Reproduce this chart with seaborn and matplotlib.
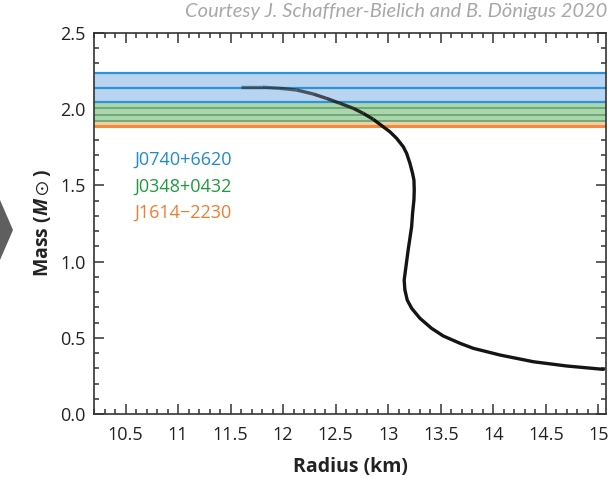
import numpy as np
import pandas as pd
import matplotlib
matplotlib.use("Agg")
import matplotlib.pyplot as plt
from matplotlib.collections import LineCollection
from matplotlib.patches import Polygon
from matplotlib.ticker import MultipleLocator
import seaborn as sns

# ---- data ----
radius_km = [11.597, 11.810, 11.969, 12.128, 12.286, 12.413, 12.540, 12.667, 12.762, 12.857,
             12.952, 13.016, 13.080, 13.143, 13.175, 13.207, 13.232, 13.245, 13.248, 13.245,
             13.232, 13.223, 13.190, 13.169, 13.152, 13.159, 13.181, 13.223, 13.302, 13.413,
             13.524, 13.683, 13.810, 14.064, 14.381, 14.699, 15.048]
mass_msun = [2.144, 2.144, 2.137, 2.126, 2.100, 2.071, 2.039, 2.006, 1.973, 1.934,
             1.885, 1.852, 1.809, 1.754, 1.711, 1.645, 1.579, 1.535, 1.470, 1.404,
             1.317, 1.229, 1.076, 0.967, 0.879, 0.814, 0.748, 0.694, 0.628, 0.562,
             0.512, 0.464, 0.431, 0.387, 0.343, 0.315, 0.293]

pulsars = ["J0740+6620", "J0348+0432", "J1614\u22122230"]
# band limits (lower, upper) and interior lines
orange_band = (1.890, 1.925)
green_band = (1.925, 2.050)
green_lines = [2.050, 2.007, 1.963, 1.925]
blue_band = (2.050, 2.240)
blue_lines = [2.240, 2.140, 2.050]

x_ticks = [10.5, 11, 11.5, 12, 12.5, 13, 13.5, 14, 14.5, 15]
x_tick_labels = ["10.5", "11", "11.5", "12", "12.5", "13", "13.5", "14", "14.5", "15"]
y_ticks = [0.0, 0.5, 1.0, 1.5, 2.0, 2.5]
y_tick_labels = ["0.0", "0.5", "1.0", "1.5", "2.0", "2.5"]

# ---- style ----
sns.set_style("ticks")
plt.rcParams["font.family"] = ["Open Sans", "DejaVu Sans"]
plt.rcParams["mathtext.fontset"] = "custom"
plt.rcParams["mathtext.rm"] = "Open Sans"
plt.rcParams["mathtext.it"] = "Open Sans:italic"
plt.rcParams["mathtext.bf"] = "Open Sans:bold"
plt.rcParams["mathtext.fallback"] = "stixsans"
try:
    plt.rcParams["mathtext.bfit"] = "Open Sans:italic:bold"
except Exception:
    pass

BLUE_FILL = "#b9d4f0"
BLUE_LINE = "#2f93d4"
GREEN_FILL = "#abd6ab"
GREEN_LINE = "#5e9e6c"
ORANGE_FILL = "#efcfa8"
ORANGE_LINE = "#f58a3c"

fig = plt.figure(figsize=(6.14, 4.78), dpi=100)
ax = fig.add_axes([94 / 614, 1 - 414 / 478, 512 / 614, 381 / 478])

# bands
ax.axhspan(*orange_band, color=ORANGE_FILL, lw=0, zorder=1)
ax.axhline(orange_band[0], color=ORANGE_LINE, lw=2.2, zorder=2)
ax.axhspan(*green_band, color=GREEN_FILL, lw=0, zorder=1)
for v in green_lines:
    ax.axhline(v, color=GREEN_LINE, lw=1.1, zorder=2)
ax.axhspan(*blue_band, color=BLUE_FILL, lw=0, zorder=1)
for v in blue_lines:
    ax.axhline(v, color=BLUE_LINE, lw=1.6, zorder=2)

# curve: faded upper part, solid black below
df = pd.DataFrame({"R": radius_km, "M": mass_msun})
split = 10
pts = np.column_stack([df["R"].values, df["M"].values])
segs = [pts[i:i + 2] for i in range(split)]
alphas = np.linspace(0.5, 1.0, split)
cols = [(0.08, 0.08, 0.08, a) for a in alphas]
ax.add_collection(LineCollection(segs, colors=cols, linewidths=2.4, capstyle="butt", zorder=4))
sns.lineplot(data=df.iloc[split:], x="R", y="M", sort=False, estimator=None,
             color="#141414", lw=2.4, ax=ax, zorder=4)

# pulsar labels
label_cols = ["#1f8bcb", "#1f9a3e", "#f07c32"]
label_y = [1.667, 1.490, 1.319]
for name, c, yy in zip(pulsars, label_cols, label_y):
    ax.text(10.588, yy, name, color=c, fontsize=13, va="center", ha="left", zorder=5)

ax.set_xlim(10.2, 15.073)
ax.set_ylim(0.0, 2.5)
ax.set_xticks(x_ticks)
ax.set_xticklabels(x_tick_labels)
ax.set_yticks(y_ticks)
ax.set_yticklabels(y_tick_labels)
ax.xaxis.set_minor_locator(MultipleLocator(0.1))
ax.yaxis.set_minor_locator(MultipleLocator(0.1))
ax.tick_params(which="both", direction="in", top=True, right=True, color="#333333", width=1.1)
ax.tick_params(which="major", length=7.5, labelsize=13, labelcolor="#222222")
ax.tick_params(which="minor", length=3.8)
ax.tick_params(axis="x", which="major", pad=9)
ax.tick_params(axis="y", which="major", pad=6)
for s in ax.spines.values():
    s.set_linewidth(1.2)
    s.set_color("#333333")

ax.set_xlabel("Radius (km)", fontsize=14, fontweight="bold", color="#222222", labelpad=9)
ax.set_ylabel(r"Mass ($\mathbfit{M}\odot$)", fontsize=14, fontweight="bold", color="#222222",
              labelpad=5)

fig.text(607 / 614, 1 - 12 / 478, "Courtesy J. Schaffner-Bielich and B. Dönigus 2020",
         ha="right", va="center", fontsize=14.5, style="italic", color="#a8a8a8",
         family=["Lato", "DejaVu Sans"])

# decorative arrow on the left edge
tri = Polygon([(0, 1 - 200 / 478), (13 / 614, 1 - 230 / 478), (0, 1 - 260 / 478)],
              closed=True, transform=fig.transFigure, color="#5f5f5f", lw=0)
fig.patches.append(tri)

fig.savefig("out.png", dpi=100)
